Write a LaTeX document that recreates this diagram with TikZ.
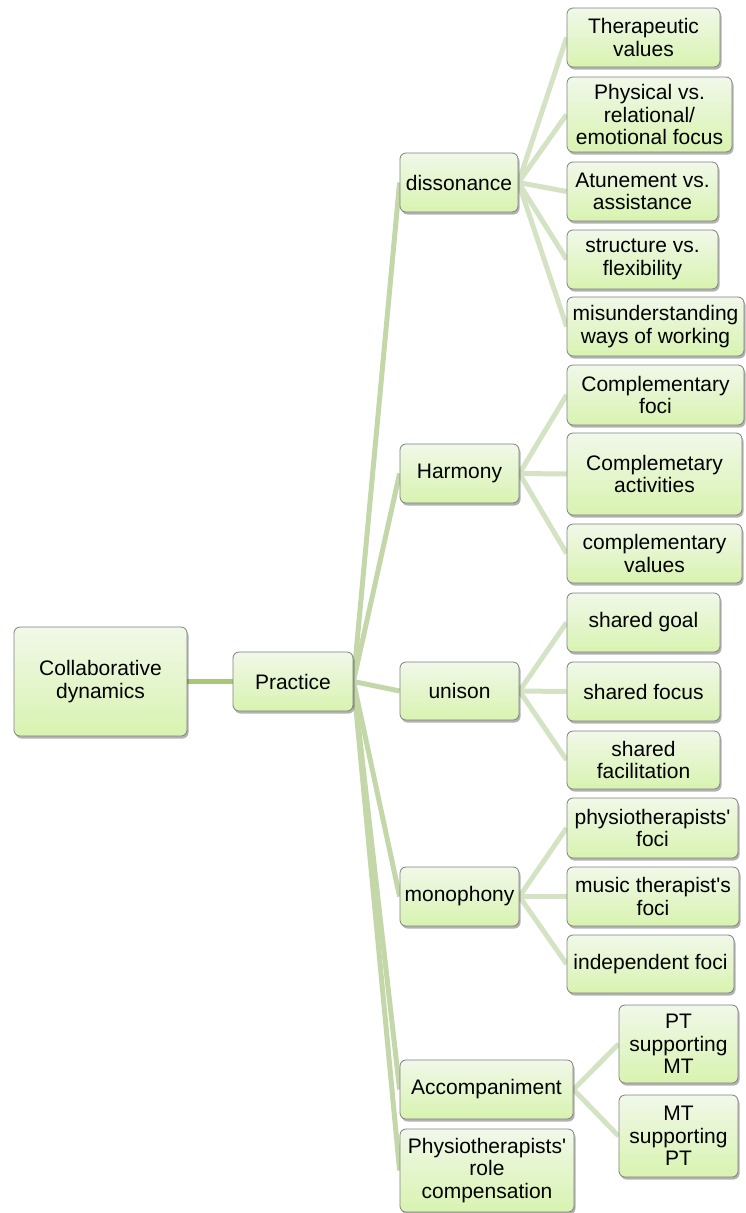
\documentclass[tikz,border=0pt]{standalone}
\usepackage{fontspec}
\setmainfont{Liberation Sans}
\usetikzlibrary{shadows,backgrounds}
\definecolor{boxtop}{RGB}{241,248,233}
\definecolor{boxbot}{RGB}{216,243,176}
\definecolor{boxline}{RGB}{128,128,128}
\definecolor{linkA}{RGB}{168,198,126}
\definecolor{linkB}{RGB}{195,215,168}
\definecolor{linkC}{RGB}{213,227,197}
\tikzset{
  mbox/.style={draw=boxline, line width=0.8pt, rounded corners=6pt,
    top color=boxtop, bottom color=boxbot, align=center, inner sep=1pt,
    font=\fontsize{21}{22.5}\selectfont,
    drop shadow={shadow xshift=1.5pt, shadow yshift=-2.5pt, opacity=0.3, fill=black}},
  rootlink/.style={draw=linkA, line width=5pt},
  midlink/.style={draw=linkB, line width=5pt},
  leaflink/.style={draw=linkC, line width=5pt},
}
\newcommand{\bx}[6]{% name, cx, cy, w, h, text
  \node[mbox, minimum width=#4pt, minimum height=#5pt] (#1) at (#2,#3) {#6};}
\newcommand{\q}{\textquotesingle}
\begin{document}
\begin{tikzpicture}[x=1pt,y=-1pt]
\useasboundingbox (0,0) rectangle (745,1213);
\bx{root}{100.5}{681.5}{173}{109}{Collaborative\\dynamics}
\bx{prac}{293}{681.5}{120}{59}{Practice}
\bx{dis}{459}{182.5}{118}{59}{dissonance}
\bx{harm}{459.5}{473.5}{119}{59}{Harmony}
\bx{uni}{459.5}{691}{119}{58}{unison}
\bx{mono}{459.5}{896.5}{119}{59}{monophony}
\bx{acc}{486.5}{1089.5}{173}{59}{Accompaniment}
\bx{role}{487}{1170.5}{174}{83}{Physiotherapists\q\\role\\compensation}
\bx{tv}{643.5}{37.5}{153}{59}{Therapeutic\\values}
\bx{pv}{649.5}{114.5}{165}{75}{Physical vs.\\relational/\\emotional focus}
\bx{at}{642.5}{191.5}{151}{59}{Atunement vs.\\assistance}
\bx{sf}{642.5}{259.5}{151}{59}{structure vs.\\flexibility}
\bx{mw}{655.5}{326.5}{177}{59}{misunderstanding\\ways of working}
\bx{cf}{655.5}{395}{177}{60}{Complementary\\foci}
\bx{ca}{654.5}{474}{175}{82}{Complemetary\\activities}
\bx{cv}{654.5}{553.5}{175}{59}{complementary\\values}
\bx{sg}{643.5}{622.5}{153}{59}{shared goal}
\bx{sfo}{643.5}{691.5}{153}{59}{shared focus}
\bx{sfa}{643.5}{760}{153}{58}{shared\\facilitation}
\bx{pf}{652.5}{828}{171}{60}{physiotherapists\q\\foci}
\bx{mf}{653}{896.5}{172}{59}{music therapist\q s\\foci}
\bx{inf}{650.5}{964}{167}{58}{independent foci}
\bx{ptmt}{678.5}{1044}{119}{78}{PT\\supporting\\MT}
\bx{mtpt}{678.5}{1136}{119}{82}{MT\\supporting\\PT}
\begin{pgfonlayer}{background}
\draw[rootlink] (root.east) -- (prac.west);
\foreach \c in {dis,harm,uni,mono,acc,role}
  \draw[midlink] (prac.east) -- (\c.west);
\foreach \c in {tv,pv,at,sf,mw}
  \draw[leaflink] (dis.east) -- (\c.west);
\foreach \c in {cf,ca,cv}
  \draw[leaflink] (harm.east) -- (\c.west);
\foreach \c in {sg,sfo,sfa}
  \draw[leaflink] (uni.east) -- (\c.west);
\foreach \c in {pf,mf,inf}
  \draw[leaflink] (mono.east) -- (\c.west);
\foreach \c in {ptmt,mtpt}
  \draw[leaflink] (acc.east) -- (\c.west);
\end{pgfonlayer}
\end{tikzpicture}
\end{document}
